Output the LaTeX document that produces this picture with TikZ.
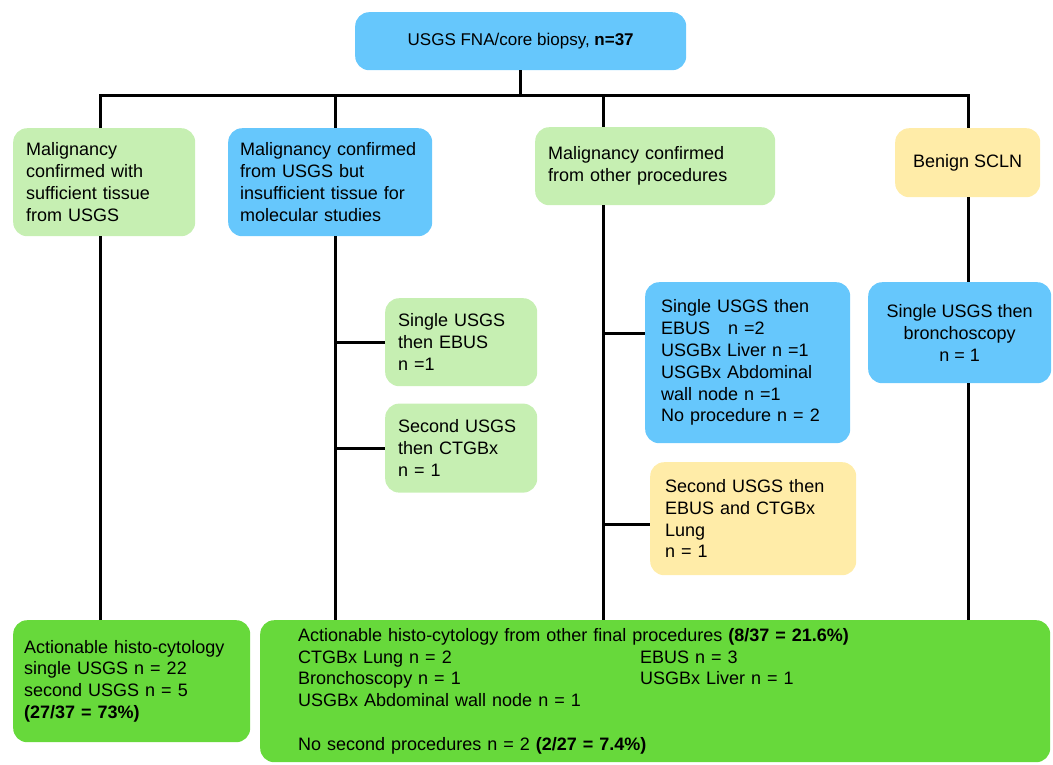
\documentclass[tikz,border=0pt]{standalone}
\usepackage{fontspec}
\setmainfont{Liberation Sans}
\usetikzlibrary{positioning}
\hyphenpenalty=10000
\definecolor{palegreen}{RGB}{198,239,178}
\definecolor{skyblue}{RGB}{102,199,252}
\definecolor{sandy}{RGB}{255,236,168}
\definecolor{limegreen}{RGB}{103,217,59}
\tikzset{box/.style = {rectangle, rounded corners=14pt, inner xsep=13pt, inner ysep=4pt,
    align=left, font=\fontsize{18}{21.8}\selectfont},
  pale/.style = {box, fill=palegreen},
  sky/.style = {box, fill=skyblue},
  sand/.style = {box, fill=sandy},
  lime/.style = {box, fill=limegreen},
  link/.style = {draw=black, line width=3pt}}

\begin{document}
\begin{tikzpicture}[x=1pt,y=-1pt]
      \useasboundingbox (0,0) rectangle (1053,764);

      \node[sky, anchor=north west, minimum width=331pt, minimum height=58pt, align=center,
        font=\fontsize{17}{21}\selectfont]
        (biopsy) at (355,12) {USGS FNA/core biopsy, \textbf{n=37}};

      % second row
      \node[pale, anchor=north west, text width=156pt, minimum height=108pt]
        (sufficient) at (13,128)
        {Malignancy\\confirmed with\\sufficient tissue\\from USGS};
      \node[sky, anchor=north west, text width=188pt, inner xsep=8pt, minimum height=108pt]
        (insufficient) at (228,128)
        {\hspace*{4pt}Malignancy confirmed\\\hspace*{4pt}from USGS but\\\hspace*{4pt}insufficient tissue for\\\hspace*{4pt}molecular studies};
      \node[pale, anchor=north west, text width=214pt, minimum height=78pt]
        (otherproc) at (535,127)
        {Malignancy confirmed\\from other procedures};
      \node[sand, anchor=north west, minimum width=145pt, minimum height=69pt, align=center]
        (benign) at (895,128) {Benign SCLN};

      % procedures
      \node[pale, anchor=north west, text width=126pt, minimum height=88pt]
        (singleebus) at (385,298)
        {Single USGS\\then EBUS\\n =1};
      \node[pale, text width=126pt, minimum height=89pt, below = 17pt of singleebus]
        (secondct)
        {Second USGS\\then CTGBx\\n = 1};
      \node[sky, anchor=north west, text width=173pt, inner xsep=16pt, minimum height=161pt]
        (otherlist) at (645,282)
        {Single USGS then\\EBUS\ \ \ n =2\\USGBx Liver n =1\\USGBx Abdominal\\wall node n =1\\No procedure n = 2};
      \node[sand, anchor=north west, text width=176pt, inner xsep=15pt, minimum height=113pt]
        (secondebus) at (650,462)
        {Second USGS then\\EBUS and CTGBx\\Lung\\n = 1};
      \node[sky, anchor=north west, minimum width=183pt, minimum height=101pt, align=center]
        (bronch) at (868,282)
        {Single USGS then\\bronchoscopy\\n = 1};

      % outcomes
      \node[lime, anchor=north west, text width=215pt, inner xsep=11pt, minimum height=122pt]
        (actionusgs) at (13,620)
        {Actionable histo-cytology\\single USGS n = 22\\second USGS n = 5\\\textbf{(27/37 = 73\%)}};
      \node[lime, anchor=north west, text width=714pt, inner xsep=38pt, minimum height=142pt]
        (actionother) at (260,620)
        {Actionable histo-cytology from other final procedures \textbf{(8/37 = 21.6\%)}\\
         \makebox[342pt][l]{CTGBx Lung n = 2}EBUS n = 3\\
         \makebox[342pt][l]{Bronchoscopy n = 1}USGBx Liver n = 1\\
         USGBx Abdominal wall node n = 1\\[21.8pt]
         No second procedures n = 2 \textbf{(2/27 = 7.4\%)}};

      % connectors
      \coordinate (busL) at (100,95);
      \coordinate (busB) at (335,95);
      \coordinate (busC) at (603,95);
      \coordinate (busR) at (968,95);

      \path[link] (biopsy.south) -- (biopsy.south |- busL);
      \path[link] (sufficient.north -| busL) -- (busL) -- (busR) -- (benign.north -| busR);
      \path[link] (busB) -- (insufficient.north -| busB);
      \path[link] (busC) -- (otherproc.north -| busC);

      \path[link] (sufficient.south -| busL) -- (actionusgs.north -| busL);
      \path[link] (insufficient.south -| busB) -- (actionother.north -| busB);
      \path[link] (singleebus.west -| busB) -- (singleebus.west);
      \path[link] (secondct.west -| busB) -- (secondct.west);

      \path[link] (otherproc.south -| busC) -- (actionother.north -| busC);
      \path[link] ([yshift=29pt]otherlist.west -| busC) -- ([yshift=29pt]otherlist.west);
      \path[link] ([yshift=-6pt]secondebus.west -| busC) -- ([yshift=-6pt]secondebus.west);

      \path[link] (benign.south -| busR) -- (bronch.north -| busR);
      \path[link] (bronch.south -| busR) -- (actionother.north -| busR);
\end{tikzpicture}
\end{document}
